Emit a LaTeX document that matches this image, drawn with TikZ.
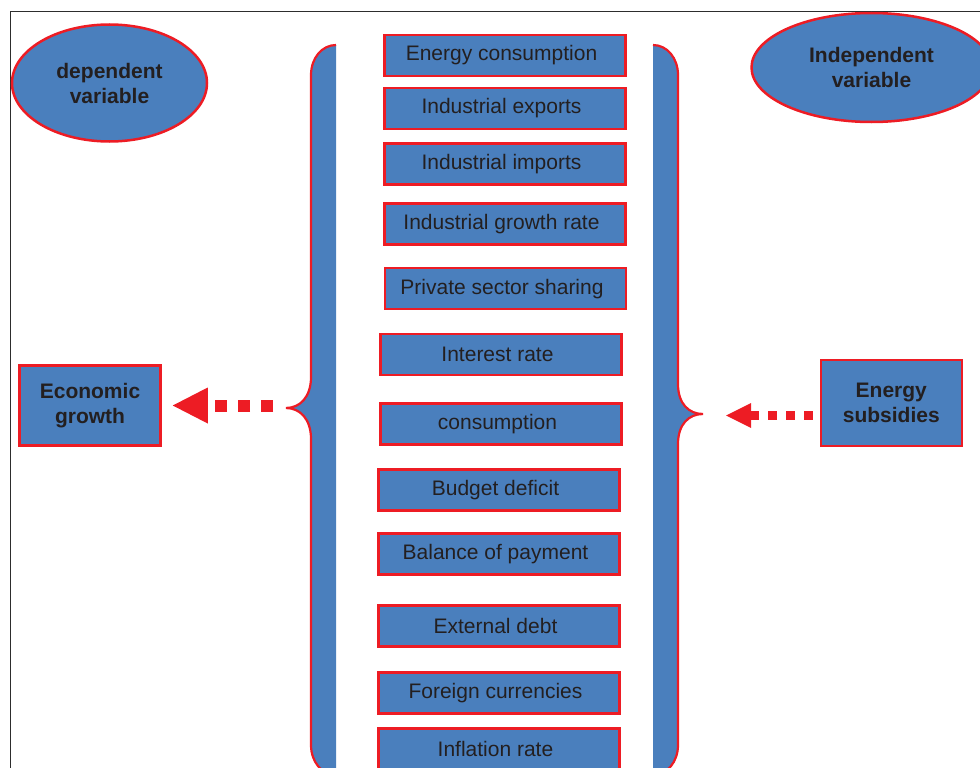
\documentclass[tikz,border=0pt]{standalone}
\usepackage{fontspec}
\setmainfont{Liberation Sans}
\usetikzlibrary{shapes.geometric,arrows.meta}
\definecolor{boxblue}{RGB}{74,127,189}
\definecolor{boxred}{RGB}{237,28,36}
\definecolor{txt}{RGB}{35,31,32}
\definecolor{framec}{RGB}{45,45,45}
\tikzset{
  varbox/.style={draw=boxred, fill=boxblue, line width=2.5pt, minimum width=241pt, minimum height=41pt, inner sep=0pt, text=txt, font=\fontsize{21}{25}\selectfont, execute at end node={\hspace*{7pt}}},
  sidebox/.style={draw=boxred, fill=boxblue, line width=2.5pt, inner sep=0pt, text=txt, align=center, font=\fontsize{21}{25}\selectfont\bfseries},
  varell/.style={ellipse, draw=boxred, fill=boxblue, line width=2.5pt, inner sep=0pt, text=txt, align=center, font=\fontsize{21}{25}\selectfont\bfseries},
  bracefill/.style={fill=boxblue},
  braceline/.style={draw=boxred, line width=2.2pt},
  dasharrow/.style={draw=boxred, line cap=butt}
}
\begin{document}
\begin{tikzpicture}[x=1pt,y=-1pt]
\useasboundingbox (0,0) rectangle (980,768);
% frame
\draw[framec, line width=1pt] (10,780) -- (10,11.3) -- (990,11.3);
% left brace
\fill[bracefill] (336,45) .. controls (322,45) and (311,58) .. (311,75) -- (311,377) .. controls (311,397) and (300,408) .. (286,408) .. controls (300,408) and (311,419) .. (311,439) -- (311,745) .. controls (311,762) and (322,775) .. (336,775) -- cycle;
\draw[braceline] (336,45) .. controls (322,45) and (311,58) .. (311,75) -- (311,377) .. controls (311,397) and (300,408) .. (286,408) .. controls (300,408) and (311,419) .. (311,439) -- (311,745) .. controls (311,762) and (322,775) .. (336,775);
% right brace
\fill[bracefill] (653,45) .. controls (667,45) and (678,58) .. (678,75) -- (678,384) .. controls (678,404) and (689,414) .. (703,414) .. controls (689,414) and (678,424) .. (678,444) -- (678,745) .. controls (678,762) and (667,775) .. (653,775) -- cycle;
\draw[braceline] (653,45) .. controls (667,45) and (678,58) .. (678,75) -- (678,384) .. controls (678,404) and (689,414) .. (703,414) .. controls (689,414) and (678,424) .. (678,444) -- (678,745) .. controls (678,762) and (667,775) .. (653,775);
% variable boxes
\node[varbox] (v1) at (505,55.5) {Energy consumption};
\node[varbox] (v2) at (505,108.5) {Industrial exports};
\node[varbox] (v3) at (505,164) {Industrial imports};
\node[varbox] (v4) at (505,224) {Industrial growth rate};
\node[varbox] (v5) at (505.5,288.7) {Private sector sharing};
\node[varbox] (v6) at (501,354.7) {Interest rate};
\node[varbox] (v7) at (501,424) {consumption};
\node[varbox] (v8) at (499,490) {Budget deficit};
\node[varbox] (v9) at (499,554) {Balance of payment};
\node[varbox] (v10) at (499,626) {External debt};
\node[varbox] (v11) at (499,693) {Foreign currencies};
\node[varbox] (v12) at (499,749) {Inflation rate};
% ellipses
\node[varell, minimum width=195pt, minimum height=117pt] (dep) at (109.5,83) {dependent\\variable};
\node[varell, minimum width=240pt, minimum height=109pt] (ind) at (871.5,67.5) {Independent\\variable};
% side boxes
\node[sidebox, minimum width=141pt, minimum height=80pt] (econ) at (90,405.5) {Economic\\growth};
\node[sidebox, minimum width=141pt, minimum height=86pt] (subs) at (891.3,402.8) {Energy\\subsidies};
% connectors
\coordinate (lt) at (286,405.5);
\coordinate (rt) at (703,415.5);
\draw[dasharrow, line width=12pt, dash pattern=on 12pt off 11pt, shorten <=13pt, shorten >=11pt, -{Triangle[length=35pt,width=36pt,line width=0pt]}] (lt) -- (econ.east |- lt);
\draw[dasharrow, line width=9pt, dash pattern=on 9pt off 9pt, shorten <=7pt, shorten >=23pt, -{Triangle[length=25pt,width=25pt,line width=0pt]}] (subs.west |- rt) -- (rt);
\end{tikzpicture}
\end{document}
